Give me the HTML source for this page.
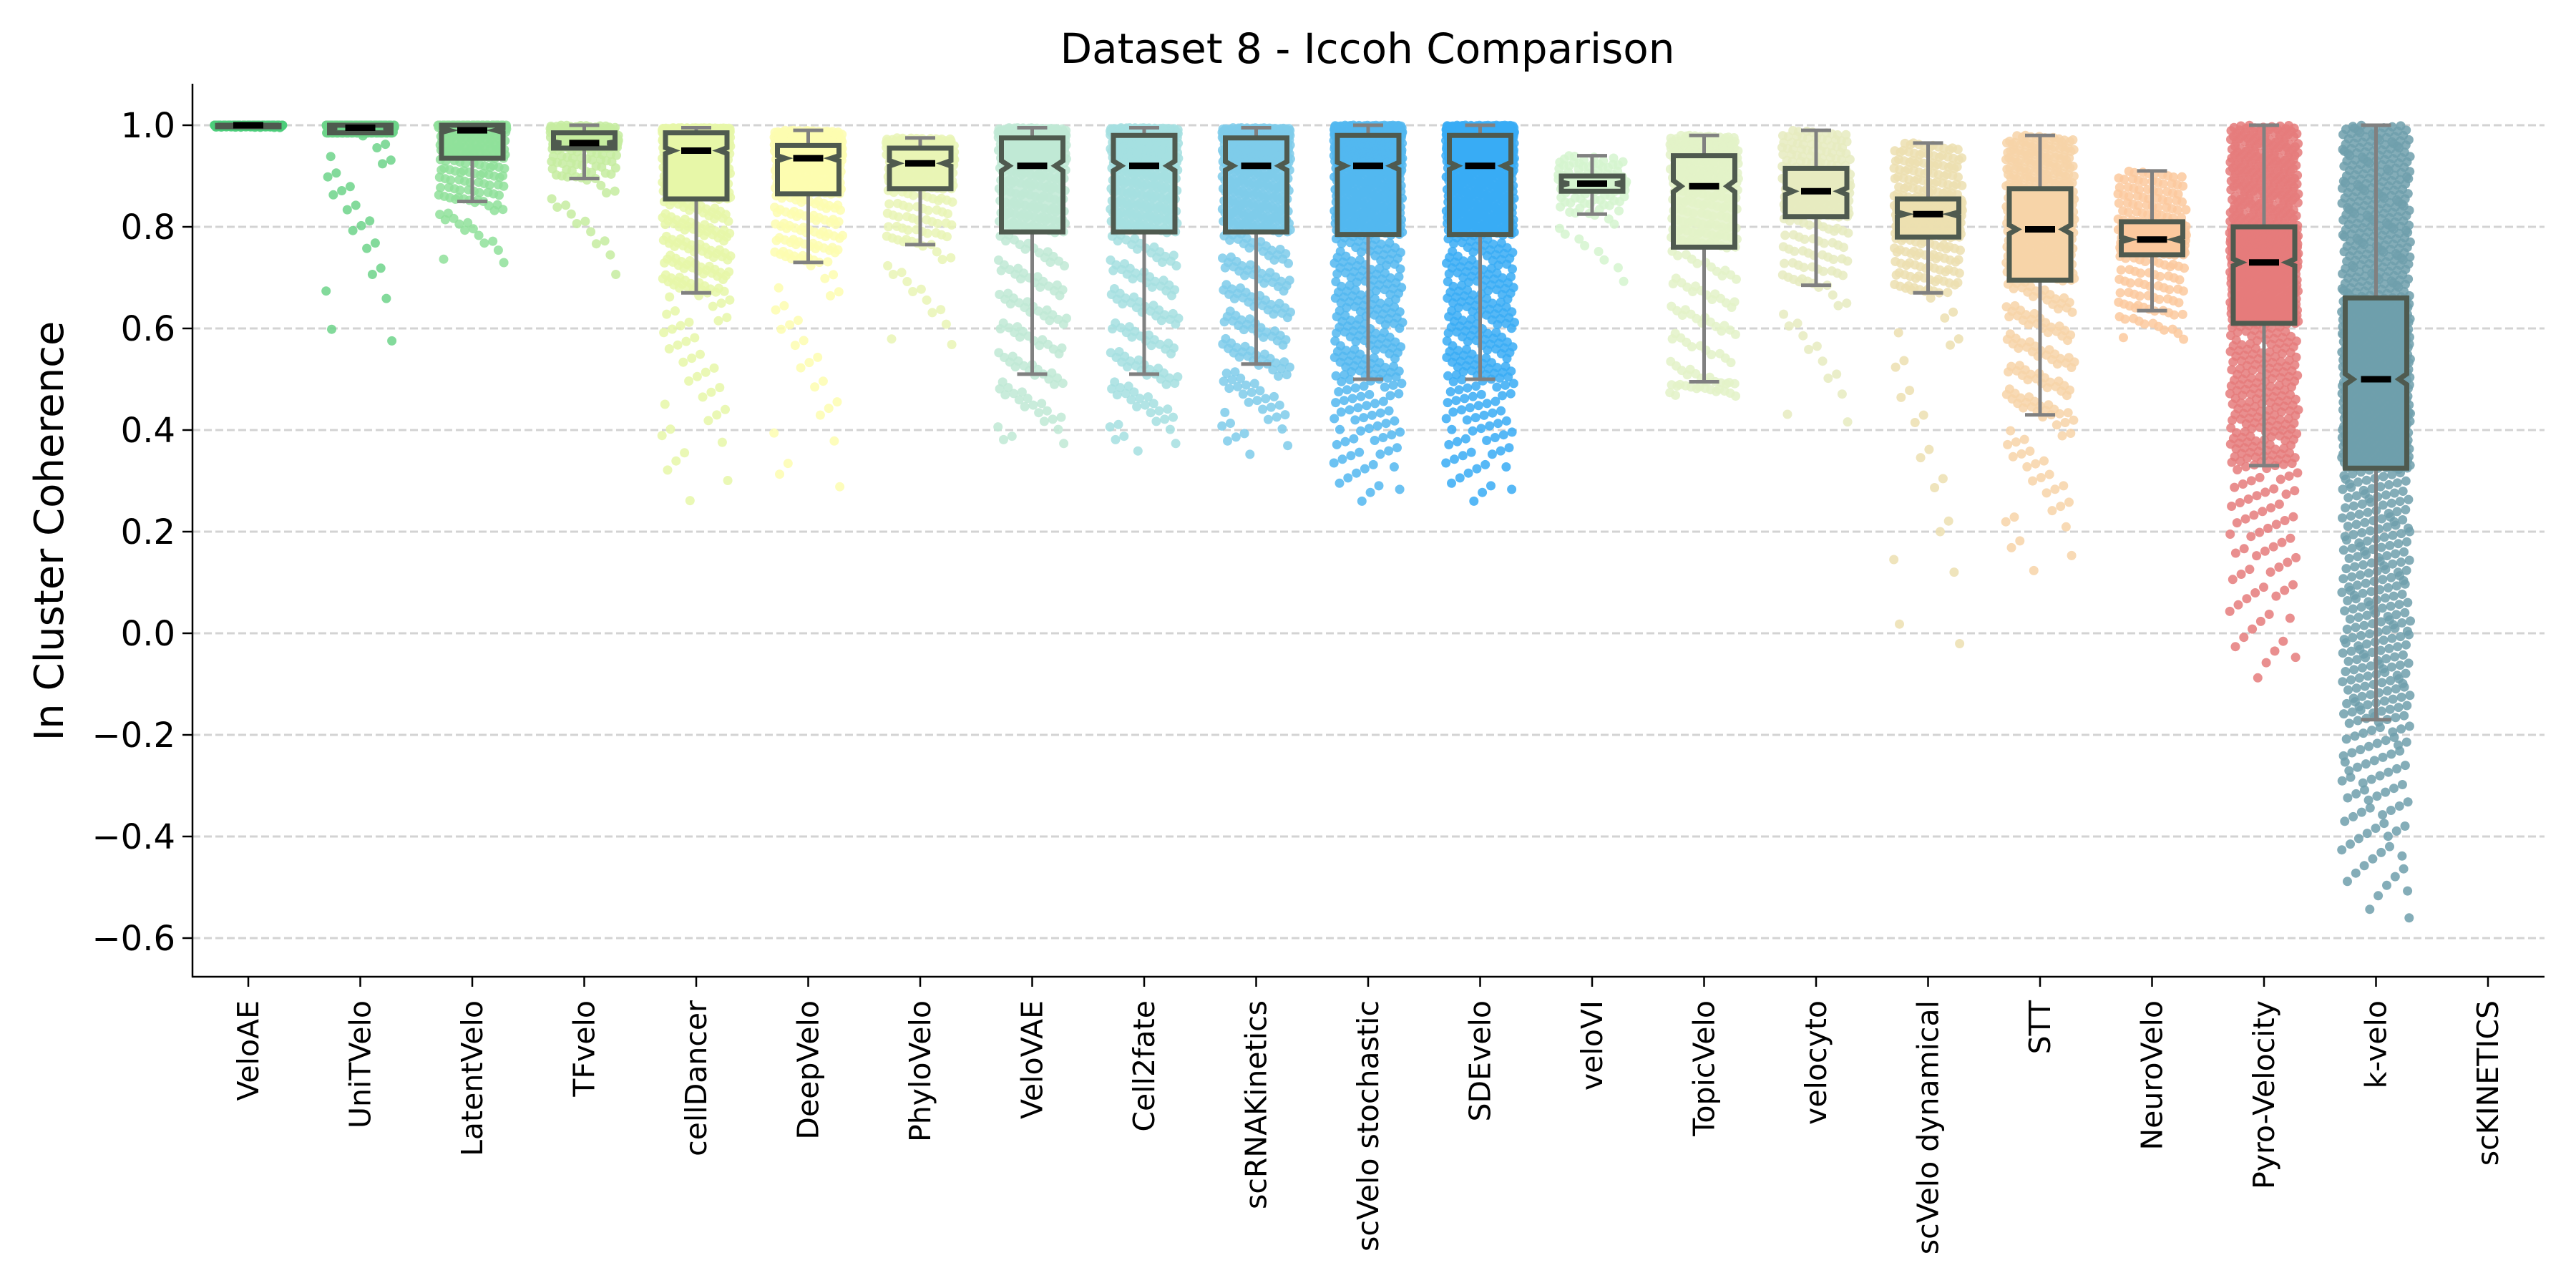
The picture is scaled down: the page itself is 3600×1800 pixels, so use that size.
<!DOCTYPE html>
<html><head><meta charset="utf-8"><style>
html,body{margin:0;padding:0;background:#fff}
svg{display:block;font-family:"DejaVu Sans","Liberation Sans",sans-serif}
</style></head><body>
<svg id="chart" width="3600" height="1800" viewBox="0 0 3600 1800" xmlns="http://www.w3.org/2000/svg">
<rect width="3600" height="1800" fill="#fff"/>
<text x="1911" y="88" font-size="58" text-anchor="middle">Dataset 8 - Iccoh Comparison</text>
<text transform="translate(88,742) rotate(-90)" font-size="56" text-anchor="middle">In Cluster Coherence</text>
<g id="grid"></g>
<g id="marks"></g>
<g id="axes"></g>
</svg>
<script>
const categories=["VeloAE","UniTVelo","LatentVelo","TFvelo","cellDancer","DeepVelo","PhyloVelo","VeloVAE","Cell2fate","scRNAKinetics","scVelo stochastic","SDEvelo","veloVI","TopicVelo","velocyto","scVelo dynamical","STT","NeuroVelo","Pyro-Velocity","k-velo","scKINETICS"];
const colors=["#4ccd7a","#6dd48a","#8fe09a","#c5eca0","#e6f7a8","#fdfdb0","#e9f5b5","#bfe9d5","#a5dfe0","#7ecbea","#52b7f0","#38acf5","#d5f5cf","#e3f2c8","#e6ebc0","#ecdfb0","#f7d4a8","#fbc99e","#e57b7b","#6e9fab",null];
const minVals=[0.995,0.475,0.70,0.66,0.21,0.18,0.52,0.34,0.34,0.33,0.23,0.23,0.66,0.46,0.35,-0.19,0.085,0.565,-0.14,-0.59,null];
const whiskerLo=[0.997,0.985,0.85,0.895,0.67,0.73,0.765,0.51,0.51,0.53,0.50,0.50,0.825,0.495,0.685,0.67,0.43,0.635,0.33,-0.17,null];
const q1Vals=[0.997,0.985,0.935,0.955,0.855,0.865,0.875,0.79,0.79,0.79,0.785,0.785,0.87,0.76,0.82,0.78,0.695,0.745,0.61,0.325,null];
const medians=[1.0,0.995,0.99,0.965,0.95,0.935,0.925,0.92,0.92,0.92,0.92,0.92,0.885,0.88,0.87,0.825,0.795,0.775,0.73,0.50,null];
const q3Vals=[1.0,1.0,1.0,0.985,0.985,0.96,0.955,0.975,0.98,0.975,0.98,0.98,0.90,0.94,0.915,0.855,0.875,0.81,0.80,0.66,null];
const whiskerHi=[1.0,1.0,1.0,1.0,0.995,0.99,0.975,0.995,0.995,0.995,1.0,1.0,0.94,0.98,0.99,0.965,0.98,0.91,1.0,1.0,null];
const counts=[180,390,300,220,650,450,270,420,500,600,950,950,140,330,270,380,550,270,1050,1250,0];
const yTicks=[1.0,0.8,0.6,0.4,0.2,0.0,-0.2,-0.4,-0.6];
const yTickLabels=["1.0","0.8","0.6","0.4","0.2","0.0","\u22120.2","\u22120.4","\u22120.6"];

const NS="http://www.w3.org/2000/svg";
const AX={left:269,right:3556,top:117,bottom:1365};
const yScale=v=>175+(1-v)*710;
const xScale=i=>347+156.5*i;
function mk(tag,attrs,parent){const e=document.createElementNS(NS,tag);for(const k in attrs)e.setAttribute(k,attrs[k]);parent.appendChild(e);return e;}
const grid=document.getElementById('grid'),marks=document.getElementById('marks'),axes=document.getElementById('axes');

yTicks.forEach((t,i)=>{
  const y=yScale(t);
  const g=mk('line',{x1:AX.left,x2:AX.right,y1:y,y2:y,stroke:"#d3d3d3","stroke-width":3,"stroke-dasharray":"11,5"},grid);
  
  
  const tk=mk('line',{x1:AX.left-14,x2:AX.left,y1:y,y2:y,stroke:"#000","stroke-width":2.5},axes);
  
  
  const tx=mk('text',{x:AX.left-24,y:y+17,"font-size":48,"text-anchor":"end"},axes);
  tx.textContent=yTickLabels[i];
  
  
});

function quant(i,p){
  const tail=0.06;
  const k=[[0,minVals[i]],[tail,whiskerLo[i]],[0.25,q1Vals[i]],[0.5,medians[i]],[0.75,q3Vals[i]],[1,whiskerHi[i]]];
  for(let j=1;j<k.length;j++){if(p<=k[j][0]){const a=k[j-1],b=k[j];const f=(p-a[0])/((b[0]-a[0])||1);
    const ff=(j===1)?Math.pow(f,0.55):f;return a[1]+(b[1]-a[1])*ff;}}
  return whiskerHi[i];
}
const A1=0.7548776662,A2=0.5698402910;
categories.forEach((c,i)=>{
  const cx=xScale(i);
  const tk=mk('line',{x1:cx,x2:cx,y1:AX.bottom,y2:AX.bottom+14,stroke:"#000","stroke-width":2.5},axes);
  
  
  const tx=mk('text',{transform:`translate(${cx+14},1398) rotate(-90)`,"font-size":41,"text-anchor":"end"},axes);
  tx.textContent=c;
  
  
  if(colors[i]===null)return;
  const g=mk('g',{},marks);
  
  
  const n=counts[i];let s='';
  for(let k=0;k<n;k++){
    const p=(0.5+k*A2)%1;const v=quant(i,p);
    const j=((0.5+k*A1)%1)*2-1;
    s+=`<circle cx="${(cx+j*48).toFixed(1)}" cy="${yScale(v).toFixed(1)}" r="6.5"/>`;
  }
  g.setAttribute('fill',colors[i]);g.setAttribute('fill-opacity','0.85');
  g.innerHTML=s;
  const bw=86,h=bw/2,q1=yScale(q1Vals[i]),q3=yScale(q3Vals[i]),md=yScale(medians[i]);
  const wl=yScale(whiskerLo[i]),wh=yScale(whiskerHi[i]);
  const wg=mk('g',{stroke:"#808080","stroke-width":5},marks);
  
  
  mk('line',{x1:cx,x2:cx,y1:q1,y2:wl},wg);mk('line',{x1:cx,x2:cx,y1:q3,y2:wh},wg);
  mk('line',{x1:cx-21,x2:cx+21,y1:wl,y2:wl},wg);mk('line',{x1:cx-21,x2:cx+21,y1:wh,y2:wh},wg);
  let ci=1.57*(q3Vals[i]-q1Vals[i])/Math.sqrt(counts[i]*2);
  const nlo=yScale(Math.max(medians[i]-ci,q1Vals[i])),nhi=yScale(Math.min(medians[i]+ci,q3Vals[i]));
  const ins=h*0.75;
  const pts=[[cx-h,q1],[cx-h,nlo],[cx-ins,md],[cx-h,nhi],[cx-h,q3],[cx+h,q3],[cx+h,nhi],[cx+ins,md],[cx+h,nlo],[cx+h,q1]];
  const bx=mk('polygon',{points:pts.map(p=>p.join(',')).join(' '),fill:colors[i],"fill-opacity":0.85,stroke:"#4f5a4f","stroke-width":7,"stroke-linejoin":"miter"},marks);
  
  
  const m=mk('line',{x1:cx-21,x2:cx+21,y1:md,y2:md,stroke:"#000","stroke-width":9},marks);
  
  
});
const sl=mk('line',{x1:AX.left,x2:AX.left,y1:AX.top,y2:AX.bottom+1,stroke:"#000","stroke-width":2.5},axes);


const sb=mk('line',{x1:AX.left-1,x2:AX.right,y1:AX.bottom,y2:AX.bottom,stroke:"#000","stroke-width":2.5},axes);


</script>
</body></html>
